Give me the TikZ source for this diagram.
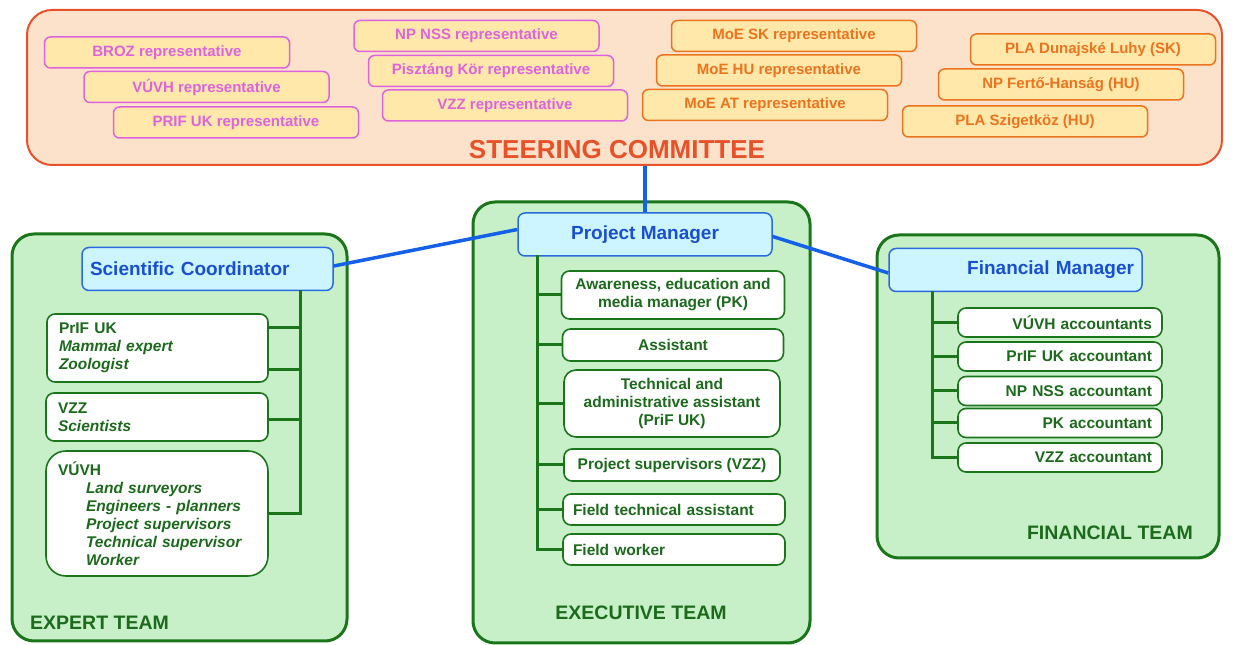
\documentclass[tikz,border=0pt]{standalone}
\usepackage{fontspec}
\setmainfont{Liberation Sans}
\begin{document}
\begin{tikzpicture}[x=1pt,y=1pt,
  repbox/.style={draw=#1,fill=repFill,text=#1,line width=1.5pt,rounded corners=6pt,
    minimum width=245pt,minimum height=31pt,inner sep=0pt,font=\bfseries\fontsize{15}{18}\selectfont},
  teambox/.style={draw=teamLine,fill=teamFill,line width=3pt,rounded corners=22pt},
  headbox/.style={draw=headLine,fill=headFill,text=headText,line width=1.5pt,rounded corners=7pt,
    minimum height=43pt,inner sep=0pt,font=\bfseries\fontsize{19}{22}\selectfont},
  memberbox/.style={draw=teamLine,fill=white,text=teamText,line width=1.6pt,rounded corners=8pt,
    inner xsep=10pt,inner ysep=0pt,font=\bfseries\fontsize{15.5}{18}\selectfont},
  branch/.style={draw=teamLine,line width=3pt,line cap=rect},
  link/.style={draw=linkBlue,line width=3.5pt},
  teamlabel/.style={text=teamText,inner sep=0pt,font=\bfseries\fontsize{19.5}{22}\selectfont}]
\definecolor{steerFill}{RGB}{253,226,203}
\definecolor{steerLine}{RGB}{232,82,42}
\definecolor{repFill}{RGB}{255,232,170}
\definecolor{repPink}{RGB}{222,100,222}
\definecolor{repOrange}{RGB}{236,116,30}
\definecolor{teamFill}{RGB}{200,240,200}
\definecolor{teamLine}{RGB}{27,118,27}
\definecolor{teamText}{RGB}{28,106,28}
\definecolor{headFill}{RGB}{204,245,255}
\definecolor{headLine}{RGB}{42,106,224}
\definecolor{headText}{RGB}{26,79,208}
\definecolor{linkBlue}{RGB}{21,96,232}
\path[use as bounding box,fill=white] (0,0) rectangle (1235,645);

% steering committee
\node[draw=steerLine,fill=steerFill,line width=2pt,rounded corners=25pt,
  minimum width=1195pt,minimum height=155pt] (steer) at (624.5,557.5) {};
\node[text=steerLine,inner sep=0pt,font=\bfseries\fontsize{26}{28}\selectfont] (steertitle) at (617,495) {STEERING COMMITTEE};

\node[repbox=repPink] (broz) at (167,592.5) {BROZ representative};
\node[repbox=repPink] (vuvhrep) at (206.5,558) {VÚVH representative};
\node[repbox=repPink] (prifrep) at (236,522.5) {PRIF UK representative};
\node[repbox=repPink] (npnss) at (476.5,609) {NP NSS representative};
\node[repbox=repPink] (piszt) at (491,574) {Pisztáng Kör representative};
\node[repbox=repPink] (vzzrep) at (505,539.5) {VZZ representative};
\node[repbox=repOrange] (moesk) at (794,609) {MoE SK representative};
\node[repbox=repOrange] (moehu) at (779,574.5) {MoE HU representative};
\node[repbox=repOrange] (moeat) at (765,540) {MoE AT representative};
\node[repbox=repOrange] (pladl) at (1093,595.5) {PLA Dunajské Luhy (SK)};
\node[repbox=repOrange] (npfh) at (1061,560.5) {NP Fertő-Hanság (HU)};
\node[repbox=repOrange] (plasz) at (1025,523.5) {PLA Szigetköz (HU)};

% team frames
\path[teambox] (12,4) rectangle (347,411);
\path[teambox] (473,2) rectangle (810,443);
\path[teambox] (877,87) rectangle (1219,410);

\node[teamlabel,anchor=west] (experttitle) at (30,22) {EXPERT TEAM};
\node[teamlabel] (exectitle) at (641,32) {EXECUTIVE TEAM};
\node[teamlabel,anchor=east] (fintitle) at (1193,112) {FINANCIAL TEAM};

% managers
\node[headbox,minimum width=251pt,text width=235pt,align=left] (sc) at (207.5,376) {Scientific Coordinator};
\node[headbox,minimum width=254pt] (pm) at (645,410.5) {Project Manager};
\node[headbox,minimum width=253pt,text width=237pt,align=right] (fm) at (1015.5,375) {Financial Manager};

\draw[link] (pm.north) -- (pm.north |- steer.south);
\draw[link] ([yshift=5pt]pm.west) -- ([yshift=3pt]sc.east);
\draw[link] ([yshift=-2pt]pm.east) -- ([yshift=-3pt]fm.west);

% expert team
\node[memberbox,inner xsep=12pt,minimum width=221pt,minimum height=68pt,text width=197pt,align=left] (prif) at (157.5,297)
  {PrIF UK\\ \textit{Mammal expert}\\ \textit{Zoologist}};
\node[memberbox,inner xsep=12pt,minimum width=222pt,minimum height=48pt,text width=198pt,align=left] (vzz) at (157,228)
  {VZZ\\ \textit{Scientists}};
\node[memberbox,inner xsep=12pt,rounded corners=20pt,minimum width=222pt,minimum height=125pt,text width=198pt,align=left] (vuvh) at (157,131.5)
  {VÚVH\\ \hspace*{28pt}\textit{Land surveyors}\\ \hspace*{28pt}\textit{Engineers - planners}\\
   \hspace*{28pt}\textit{Project supervisors}\\ \hspace*{28pt}\textit{Technical supervisor}\\ \hspace*{28pt}\textit{Worker}};

\coordinate (ebot) at (300,132);
\draw[branch] (sc.south -| ebot) -- (ebot);
\foreach \b/\s in {prif/20,prif/-22,vzz/-3,vuvh/0}
  \draw[branch] ([yshift=\s pt]\b.east) -- ([yshift=\s pt]ebot |- \b.east);

% executive team
\node[memberbox,minimum width=223pt,minimum height=48pt,align=center] (aware) at (673,350)
  {Awareness, education and\\ media manager (PK)};
\node[memberbox,minimum width=221pt,minimum height=32pt] (assist) at (673,300) {Assistant};
\node[memberbox,rounded corners=12pt,minimum width=216pt,minimum height=67pt,align=center] (techn) at (672,241.5)
  {Technical and\\ administrative assistant\\ (PriF UK)};
\node[memberbox,minimum width=216pt,minimum height=32pt] (supv) at (672,180) {Project supervisors (VZZ)};
\node[memberbox,minimum width=222pt,minimum height=31pt,text width=202pt,align=left] (fieldta) at (674,135.5) {Field technical assistant};
\node[memberbox,minimum width=222pt,minimum height=31pt,text width=202pt,align=left] (fieldw) at (674,95.5) {Field worker};

\coordinate (xbot) at (537,95.5);
\draw[branch] (pm.south -| xbot) -- (xbot);
\foreach \m in {aware,assist,techn,supv,fieldta,fieldw}
  \draw[branch] (\m.west) -- (\m.west -| xbot);

% financial team
\node[memberbox,minimum width=204pt,minimum height=29pt,text width=184pt,align=right] (vuvhacc) at (1060,322.5) {VÚVH accountants};
\node[memberbox,minimum width=204pt,minimum height=29pt,text width=184pt,align=right] (prifacc) at (1060,288.5) {PrIF UK accountant};
\node[memberbox,minimum width=204pt,minimum height=29pt,text width=184pt,align=right] (npacc) at (1060,254) {NP NSS accountant};
\node[memberbox,minimum width=204pt,minimum height=29pt,text width=184pt,align=right] (pkacc) at (1060,222) {PK accountant};
\node[memberbox,minimum width=204pt,minimum height=29pt,text width=184pt,align=right] (vzzacc) at (1060,187.5) {VZZ accountant};

\coordinate (fbot) at (932,187.5);
\draw[branch] (fm.south -| fbot) -- (fbot);
\foreach \m in {vuvhacc,prifacc,npacc,pkacc,vzzacc}
  \draw[branch] (\m.west) -- (\m.west -| fbot);
\end{tikzpicture}
\end{document}
